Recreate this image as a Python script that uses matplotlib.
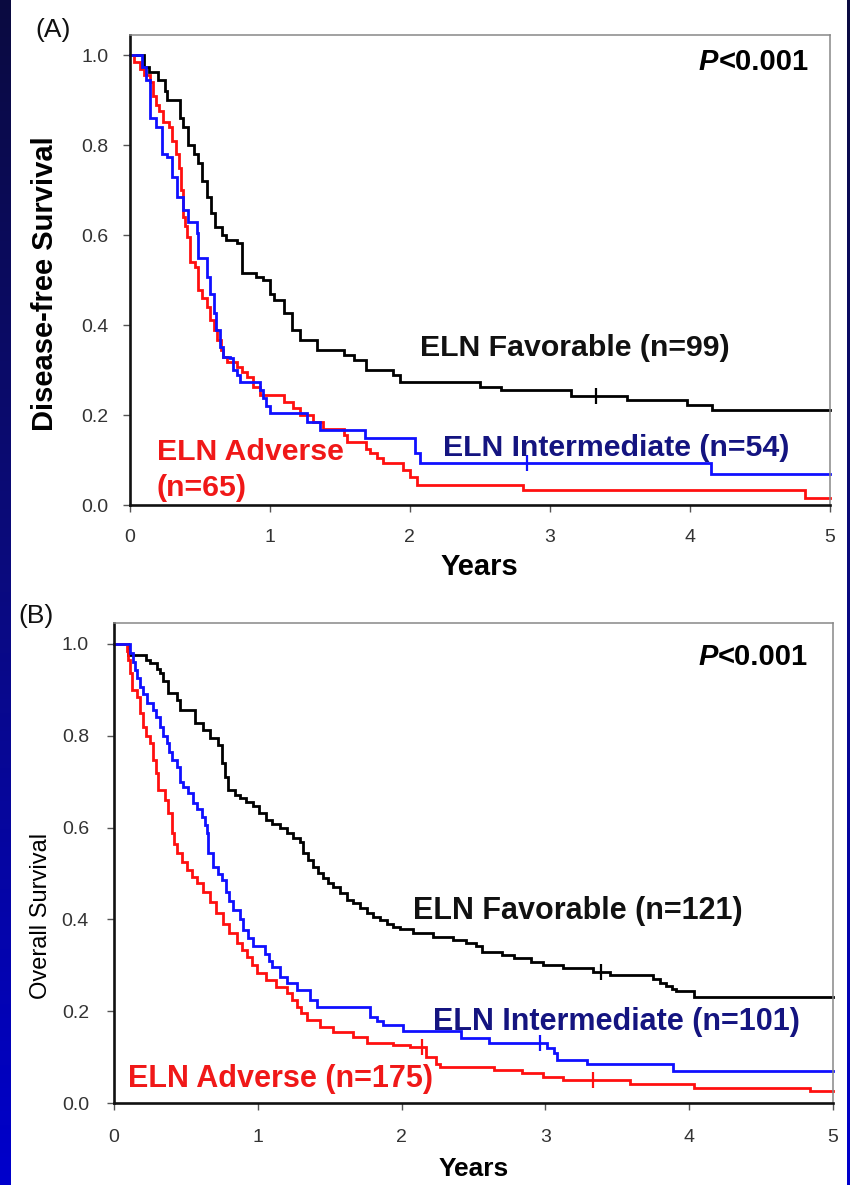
import numpy as np
import matplotlib
matplotlib.use("Agg")
import matplotlib.pyplot as plt
from matplotlib.colors import LinearSegmentedColormap

plt.rcParams['font.family'] = ['Liberation Sans', 'DejaVu Sans']

# ---------------- Data ----------------
# Panel A: Disease-free survival
a_fav_t = [0, 0.10, 0.14, 0.20, 0.25, 0.27, 0.36, 0.38, 0.42, 0.46, 0.49, 0.52, 0.55, 0.58, 0.61,
           0.66, 0.69, 0.77, 0.80, 0.90, 0.95, 1.00, 1.03, 1.10, 1.16, 1.22, 1.34, 1.53, 1.60, 1.69,
           1.88, 1.93, 2.50, 2.65, 3.15, 3.55, 3.98, 4.16]
a_fav_s = [1.0, 0.974, 0.963, 0.944, 0.92, 0.90, 0.86, 0.84, 0.80, 0.78, 0.76, 0.72, 0.685, 0.65, 0.618,
           0.60, 0.589, 0.582, 0.515, 0.507, 0.50, 0.47, 0.455, 0.426, 0.389, 0.367, 0.344, 0.333, 0.322, 0.30,
           0.289, 0.274, 0.263, 0.256, 0.242, 0.233, 0.222, 0.211]

a_int_t = [0, 0.09, 0.12, 0.146, 0.19, 0.23, 0.27, 0.30, 0.34, 0.38, 0.42, 0.48, 0.49, 0.55, 0.575,
           0.60, 0.62, 0.646, 0.67, 0.72, 0.74, 0.766, 0.79, 0.93, 0.95, 0.975, 1.0, 1.27, 1.36, 1.68,
           2.04, 2.07, 4.15]
a_int_s = [1.0, 0.974, 0.944, 0.86, 0.84, 0.78, 0.774, 0.73, 0.685, 0.655, 0.63, 0.604, 0.548, 0.507, 0.47,
           0.426, 0.389, 0.352, 0.33, 0.326, 0.30, 0.289, 0.274, 0.256, 0.237, 0.219, 0.204, 0.185, 0.167, 0.148,
           0.115, 0.093, 0.068]

a_adv_t = [0, 0.03, 0.075, 0.10, 0.146, 0.17, 0.19, 0.21, 0.24, 0.28, 0.30, 0.33, 0.35, 0.37, 0.38,
           0.395, 0.41, 0.43, 0.47, 0.49, 0.52, 0.55, 0.575, 0.60, 0.623, 0.65, 0.67, 0.694, 0.766, 0.80,
           0.837, 0.88, 0.93, 1.10, 1.17, 1.22, 1.31, 1.38, 1.53, 1.55, 1.69, 1.72, 1.77, 1.81, 1.95,
           2.0, 2.05, 2.81, 4.82]
a_adv_s = [1.0, 0.985, 0.97, 0.955, 0.94, 0.91, 0.89, 0.875, 0.852, 0.84, 0.81, 0.78, 0.75, 0.70, 0.64,
           0.62, 0.596, 0.54, 0.53, 0.478, 0.46, 0.44, 0.411, 0.39, 0.367, 0.345, 0.33, 0.318, 0.307, 0.296,
           0.285, 0.263, 0.245, 0.230, 0.215, 0.20, 0.185, 0.17, 0.155, 0.14, 0.125, 0.115, 0.105, 0.093, 0.078,
           0.063, 0.044, 0.033, 0.015]

a_fav_cens = [3.33]
a_int_cens = [2.84]
a_adv_cens = []

# Panel B: Overall survival
b_fav_t = [0, 0.10, 0.22, 0.25, 0.30, 0.32, 0.343, 0.378, 0.436, 0.46, 0.563, 0.62, 0.667, 0.725, 0.749,
           0.772, 0.795, 0.84, 0.876, 0.92, 0.969, 1.01, 1.06, 1.10, 1.154, 1.20, 1.247, 1.29, 1.316, 1.35,
           1.386, 1.42, 1.456, 1.49, 1.525, 1.57, 1.618, 1.66, 1.71, 1.76, 1.80, 1.85, 1.90, 1.94, 1.99,
           2.08, 2.22, 2.36, 2.45, 2.52, 2.56, 2.70, 2.78, 2.90, 2.985, 3.125, 3.33, 3.45, 3.75, 3.80,
           3.84, 3.88, 3.91, 4.03]
b_fav_s = [1.0, 0.976, 0.965, 0.958, 0.945, 0.936, 0.92, 0.893, 0.878, 0.856, 0.827, 0.812, 0.795, 0.78, 0.74,
           0.711, 0.682, 0.672, 0.664, 0.655, 0.646, 0.632, 0.617, 0.608, 0.599, 0.588, 0.577, 0.569, 0.544, 0.53,
           0.515, 0.502, 0.49, 0.48, 0.471, 0.457, 0.442, 0.435, 0.425, 0.413, 0.405, 0.399, 0.39, 0.384, 0.378,
           0.37, 0.362, 0.355, 0.348, 0.341, 0.33, 0.322, 0.316, 0.308, 0.30, 0.294, 0.286, 0.278, 0.27, 0.262,
           0.255, 0.248, 0.243, 0.232]

b_int_t = [0, 0.11, 0.13, 0.146, 0.16, 0.18, 0.20, 0.227, 0.273, 0.29, 0.32, 0.34, 0.366, 0.38, 0.40,
           0.436, 0.459, 0.48, 0.517, 0.551, 0.58, 0.61, 0.63, 0.645, 0.656, 0.69, 0.725, 0.75, 0.78, 0.80,
           0.83, 0.876, 0.90, 0.93, 0.969, 1.05, 1.075, 1.097, 1.154, 1.20, 1.27, 1.363, 1.41, 1.78, 1.83,
           1.873, 2.01, 2.41, 2.61, 3.01, 3.06, 3.08, 3.29, 3.89]
b_int_s = [1.0, 0.98, 0.96, 0.943, 0.925, 0.907, 0.89, 0.871, 0.856, 0.84, 0.82, 0.80, 0.784, 0.765, 0.747,
           0.733, 0.70, 0.689, 0.676, 0.653, 0.64, 0.624, 0.605, 0.588, 0.544, 0.515, 0.50, 0.486, 0.46, 0.44,
           0.42, 0.40, 0.377, 0.36, 0.341, 0.325, 0.31, 0.297, 0.275, 0.261, 0.246, 0.224, 0.21, 0.188, 0.178,
           0.17, 0.157, 0.142, 0.13, 0.119, 0.108, 0.094, 0.085, 0.07]

b_adv_t = [0, 0.088, 0.10, 0.11, 0.123, 0.158, 0.18, 0.204, 0.225, 0.25, 0.273, 0.29, 0.308, 0.355, 0.378,
           0.40, 0.42, 0.436, 0.47, 0.505, 0.54, 0.575, 0.62, 0.668, 0.71, 0.76, 0.80, 0.853, 0.89, 0.923,
           0.96, 0.992, 1.06, 1.13, 1.2, 1.235, 1.27, 1.30, 1.34, 1.43, 1.525, 1.66, 1.757, 1.94, 2.06,
           2.17, 2.24, 2.27, 2.64, 2.835, 2.985, 3.125, 3.59, 4.03, 4.84]
b_adv_s = [1.0, 0.985, 0.965, 0.936, 0.90, 0.885, 0.849, 0.82, 0.80, 0.784, 0.747, 0.72, 0.682, 0.66, 0.631,
           0.588, 0.565, 0.544, 0.525, 0.508, 0.493, 0.479, 0.46, 0.438, 0.415, 0.391, 0.37, 0.348, 0.333, 0.319,
           0.30, 0.283, 0.268, 0.253, 0.239, 0.225, 0.21, 0.195, 0.181, 0.166, 0.155, 0.144, 0.13, 0.126, 0.123,
           0.101, 0.086, 0.079, 0.072, 0.065, 0.057, 0.05, 0.041, 0.032, 0.026]

b_fav_cens = [3.39]
b_int_cens = [2.96]
b_adv_cens = [2.14, 3.33]

x_ticks = [0, 1, 2, 3, 4, 5]
y_ticks = [0.0, 0.2, 0.4, 0.6, 0.8, 1.0]
y_tick_labels = ["0.0", "0.2", "0.4", "0.6", "0.8", "1.0"]

BLACK = "#000000"
RED = "#ff1010"
BLUE = "#1010ff"
INT_TXT = "#141480"
RED_TXT = "#f01818"

# ---------------- Figure ----------------
W, H = 850, 1185
fig = plt.figure(figsize=(W / 100, H / 100), dpi=100)
fig.patch.set_facecolor("white")

# decorative gradient strips at left and right edges
cmap = LinearSegmentedColormap.from_list("edge", ["#0a0a40", "#0a0a80", "#0000cc"])
grad = np.linspace(0, 1, 256).reshape(-1, 1)
for (x0, w) in [(0, 11), (847, 3)]:
    ax_g = fig.add_axes([x0 / W, 0, w / W, 1])
    ax_g.imshow(grad, aspect="auto", cmap=cmap, extent=[0, 1, 0, 1], origin="upper")
    ax_g.set_axis_off()


def step_value(ts, ss, t):
    i = np.searchsorted(np.asarray(ts), t, side="right") - 1
    return np.asarray(ss)[max(i, 0)]


def km(ax, ts, ss, cens, color):
    tt = list(ts) + [5.0]
    sv = list(ss) + [ss[-1]]
    ax.step(tt, sv, where="post", color=color, lw=2.0, solid_joinstyle="miter", clip_on=False)
    if cens:
        cy = [step_value(ts, ss, c) for c in cens]
        ax.plot(cens, cy, ls="none", marker="|", ms=11, mew=1.6, color=color)


def setup(ax, ytop, ylabel, ylabel_bold, ylabel_size, ylabel_y, ylabel_x, xlab_size, ypad, xpad, xlabpad):
    ax.set_xlim(0, 5)
    ax.set_ylim(0, ytop)
    ax.set_xticks(x_ticks)
    ax.set_yticks(y_ticks)
    ax.set_yticklabels(y_tick_labels)
    ax.tick_params(axis="both", direction="out", length=5, width=1.0, color="#555555",
                   labelsize=14, labelcolor="#333333")
    ax.tick_params(axis="x", pad=xpad)
    ax.tick_params(axis="y", pad=ypad)
    for s in ["left", "bottom"]:
        ax.spines[s].set_linewidth(1.9)
        ax.spines[s].set_color("#111111")
    for s in ["top", "right"]:
        ax.spines[s].set_linewidth(1.1)
        ax.spines[s].set_color("#888888")
    ax.set_xlabel("Years", fontsize=xlab_size, fontweight="bold", labelpad=xlabpad)
    ax.set_ylabel(ylabel, fontsize=ylabel_size, fontweight="bold" if ylabel_bold else "normal")
    ax.yaxis.set_label_coords(ylabel_x, ylabel_y)


def pvalue(ax, x, y, size):
    t = ax.text(x, y, "<0.001", fontsize=size, fontweight="bold", ha="right", va="center")
    ax.annotate("P", xy=(0, 0.5), xycoords=t, fontsize=size, fontweight="bold", fontstyle="italic",
                ha="right", va="center")


# ---------- Panel A ----------
axA = fig.add_axes([129.5 / W, (H - 505) / H, 700.5 / W, 470 / H])
setup(axA, 470 / 450, "Disease-free Survival", True, 21, 0.47, -(129.5 - 59) / 700.5, 21, 10, 12, 5)
km(axA, a_fav_t, a_fav_s, a_fav_cens, BLACK)
km(axA, a_adv_t, a_adv_s, a_adv_cens, RED)
km(axA, a_int_t, a_int_s, a_int_cens, BLUE)
pvalue(axA, 4.846, 0.984, 21)
axA.text(2.075, 0.349, "ELN Favorable (n=99)", fontsize=21.8, fontweight="bold", color="#111111",
         ha="left", va="center")
axA.text(2.239, 0.127, "ELN Intermediate (n=54)", fontsize=21.8, fontweight="bold", color=INT_TXT,
         ha="left", va="center")
axA.text(0.196, 0.118, "ELN Adverse", fontsize=21.8, fontweight="bold", color=RED_TXT,
         ha="left", va="center")
axA.text(0.196, 0.038, "(n=65)", fontsize=21.8, fontweight="bold", color=RED_TXT,
         ha="left", va="center")
fig.text(53 / W, 1 - 30 / H, "(A)", fontsize=19, ha="center", va="center", color="#111111")

# ---------- Panel B ----------
axB = fig.add_axes([114 / W, (H - 1103) / H, 719 / W, 480 / H])
setup(axB, 480 / 459, "Overall Survival", False, 17, 0.39, -(114 - 52) / 719, 19, 13, 14, 8)
km(axB, b_fav_t, b_fav_s, b_fav_cens, BLACK)
km(axB, b_adv_t, b_adv_s, b_adv_cens, RED)
km(axB, b_int_t, b_int_s, b_int_cens, BLUE)
pvalue(axB, 4.826, 0.972, 21)
axB.text(2.079, 0.418, "ELN Favorable (n=121)", fontsize=22, fontweight="bold", color="#111111",
         ha="left", va="center")
axB.text(2.218, 0.176, "ELN Intermediate (n=101)", fontsize=22, fontweight="bold", color=INT_TXT,
         ha="left", va="center")
axB.text(0.097, 0.052, "ELN Adverse (n=175)", fontsize=22, fontweight="bold", color=RED_TXT,
         ha="left", va="center")
fig.text(36 / W, 1 - 616 / H, "(B)", fontsize=19, ha="center", va="center", color="#111111")

fig.savefig("out.png", dpi=100, facecolor=fig.get_facecolor())
